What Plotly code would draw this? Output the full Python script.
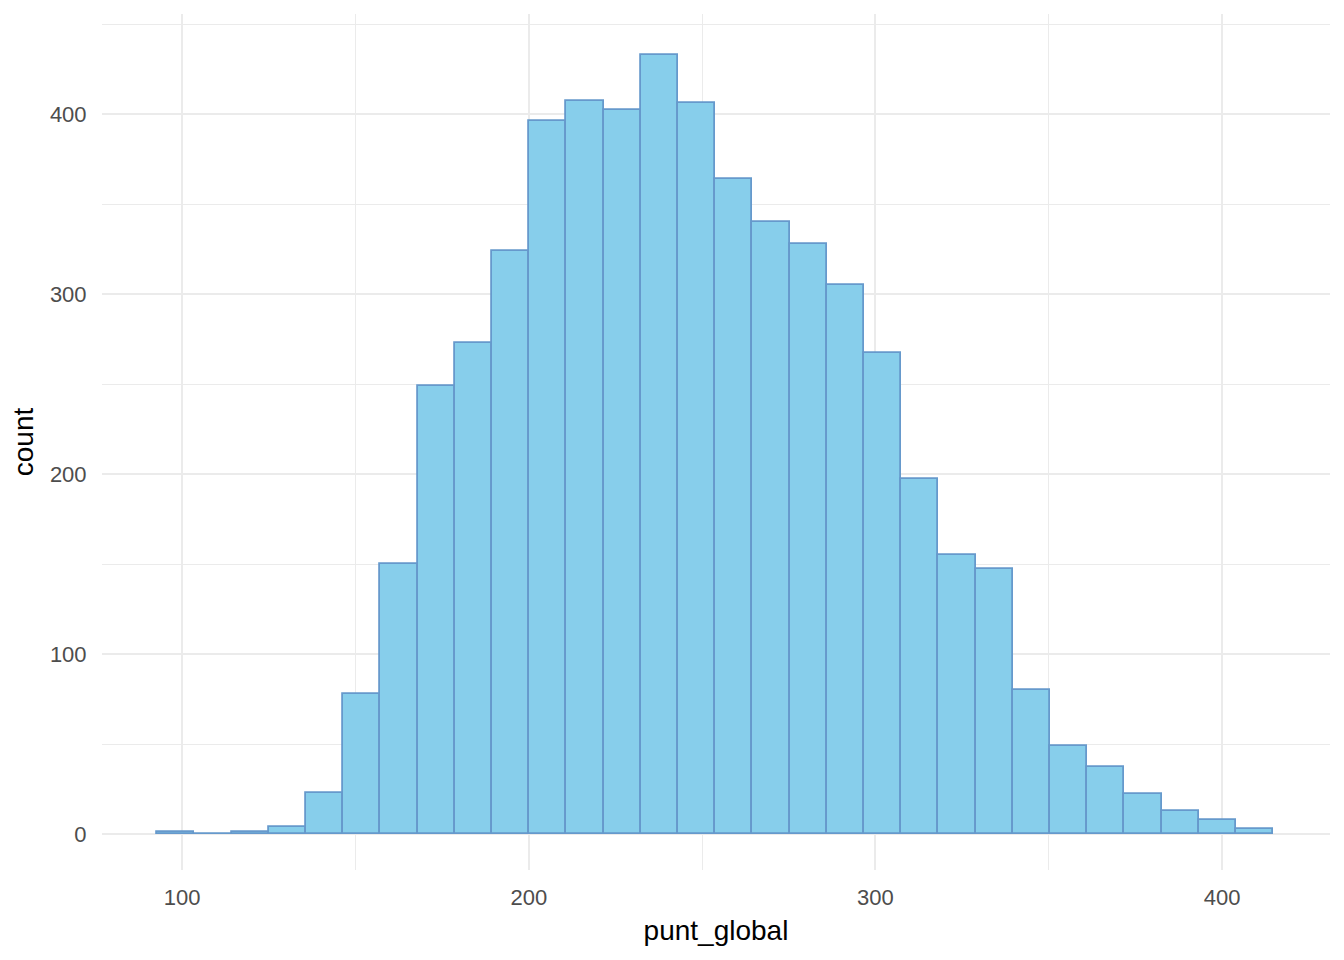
import plotly.graph_objects as go

# histogram of punt_global, 30 bins
BIN_START = 92.8
BIN_WIDTH = 10.73
COUNTS = [1, 0, 1, 4, 23, 78, 150, 249, 273, 324,
          396, 407, 402, 433, 406, 364, 340, 328, 305, 267,
          197, 155, 147, 80, 49, 37, 22, 13, 8, 3]

X_TICKS = [100, 200, 300, 400]
Y_TICKS = [0, 100, 200, 300, 400]

FILL = "#87CEEB"
EDGE = "#6699CC"
GRID = "#EBEBEB"
TICK_TXT = "#4D4D4D"

lefts = [BIN_START + i * BIN_WIDTH for i in range(len(COUNTS))]

fig = go.Figure()
fig.add_trace(go.Bar(
    x=lefts,
    y=COUNTS,
    width=BIN_WIDTH,
    offset=0,
    marker=dict(color=FILL, line=dict(color=EDGE, width=1.8)),
    hovertemplate="%{y}<extra></extra>",
))

# page body has an 8px margin, so the figure is 16px smaller than the window
fig.update_layout(
    width=1328, height=944,
    paper_bgcolor="white", plot_bgcolor="white",
    font=dict(family="Liberation Sans, Arial, sans-serif", size=22, color=TICK_TXT),
    margin=dict(l=94, r=6, t=6, b=82),
    bargap=0,
    showlegend=False,
    xaxis=dict(
        range=[76.9, 431.1],
        tickvals=X_TICKS,
        ticks="outside", ticklen=8, tickcolor="rgba(0,0,0,0)",
        showgrid=True, gridcolor=GRID, gridwidth=1.8,
        minor=dict(dtick=50, tick0=0, showgrid=True, gridcolor=GRID, gridwidth=1.0),
        zeroline=False, showline=False,
        tickfont=dict(size=22, color=TICK_TXT),
        title=dict(text="punt_global", font=dict(size=28, color="black"), standoff=10),
    ),
    yaxis=dict(
        range=[-20, 455.6],
        tickvals=Y_TICKS,
        ticks="outside", ticklen=10, tickcolor="rgba(0,0,0,0)",
        showgrid=True, gridcolor=GRID, gridwidth=1.8,
        minor=dict(dtick=50, tick0=0, showgrid=True, gridcolor=GRID, gridwidth=1.0),
        zeroline=False, showline=False,
        tickfont=dict(size=22, color=TICK_TXT),
        title=dict(text="count", font=dict(size=28, color="black"), standoff=8),
    ),
)

fig.write_html("out.html")
